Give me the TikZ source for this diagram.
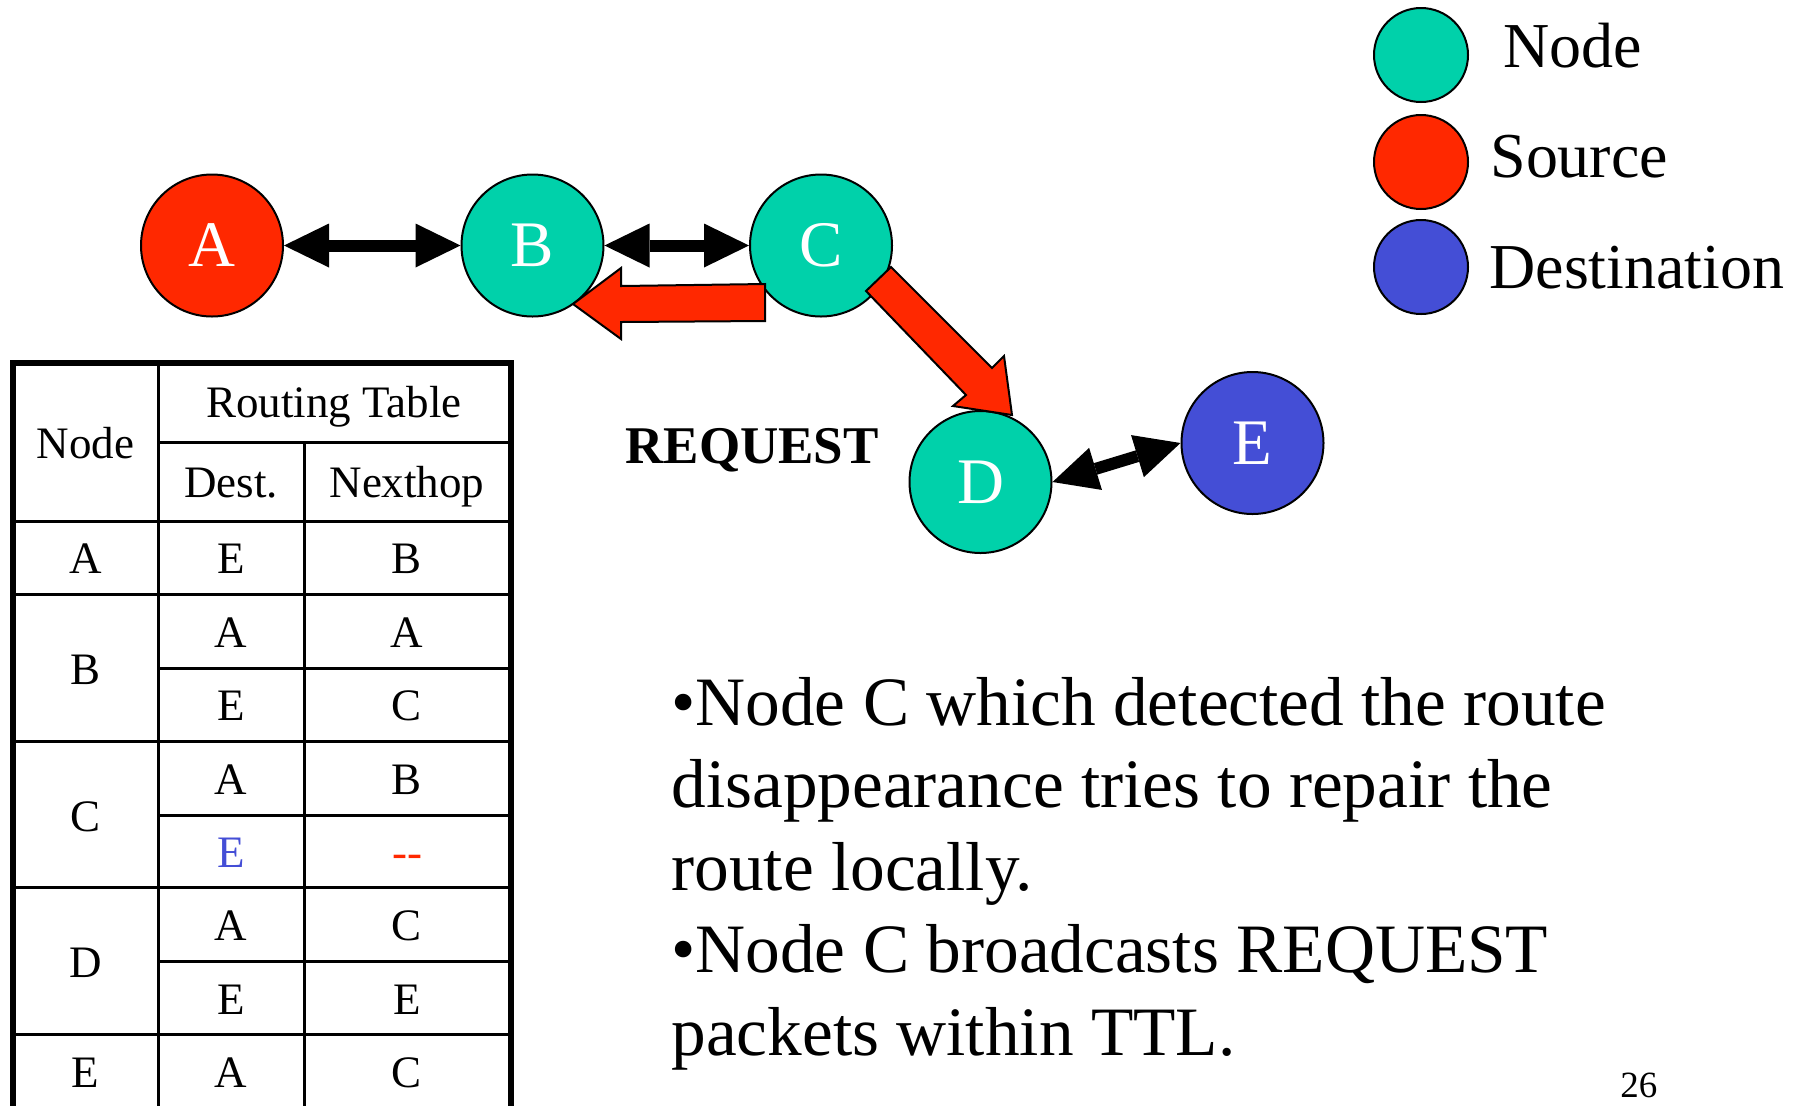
\documentclass[tikz,border=0pt]{standalone}
\usepackage{fontspec}
\setmainfont{Liberation Serif}
\usetikzlibrary{arrows.meta}
\definecolor{nodeteal}{RGB}{0,209,170}
\definecolor{srcred}{RGB}{255,40,0}
\definecolor{dstblue}{RGB}{68,78,214}
\begin{document}
\begin{tikzpicture}[x=0.5pt,y=-0.5pt,
  net/.style={circle, draw=black, line width=1pt, minimum size=71pt, inner sep=0pt,
    text=white, font=\fontsize{32.5}{39}\selectfont},
  legc/.style={circle, draw=black, line width=1pt, minimum size=47pt, inner sep=0pt},
  tipa/.tip={Triangle[length=22.5pt,width=22pt,line width=0pt]},
  link/.style={line width=6pt, draw=black, tipa-tipa},
  redarrow/.style={fill=srcred, draw=black, line width=1pt, line join=miter},
  tthick/.style={line width=3pt, line cap=rect},
  tthin/.style={line width=1.5pt},
  cell/.style={anchor=base, inner sep=0pt, font=\fontsize{22.5}{27}\selectfont},
  legt/.style={anchor=base west, inner sep=0pt, font=\fontsize{32}{38}\selectfont},
  body/.style={anchor=base west, inner sep=0pt, font=\fontsize{34.65}{41}\selectfont}]
\path[use as bounding box, fill=white] (0,0) rectangle (1800,1105);

% network nodes
\node[net, fill=srcred]  (A) at (212,245.5) {A};
\node[net, fill=nodeteal] (B) at (532.5,245.5) {B};
\node[net, fill=nodeteal] (C) at (821,245.5) {C};
\node[net, fill=nodeteal] (D) at (980.5,482) {D};
\node[net, fill=dstblue]  (E) at (1252.5,443) {E};

% links
\draw[link] (A) -- (B);
\draw[link] (B) -- (C);
\draw[link] (D.east) -- (E.west);

% red block arrows
\draw[redarrow] (765,284) -- (621,286) -- (621,268) -- (573,304) -- (621,339) -- (621,322) -- (765,321) -- cycle;
\draw[redarrow] (891,267) -- (992,368) -- (1004,356) -- (1012,415) -- (953,406) -- (966,395) -- (866,291) -- cycle;

\node[anchor=base west, inner sep=0pt, font=\fontsize{26.5}{32}\selectfont\bfseries] (req) at (625,463) {REQUEST};

% legend
\node[legc, fill=nodeteal] (l1) at (1421,55) {};
\node[legc, fill=srcred]   (l2) at (1421,162) {};
\node[legc, fill=dstblue]  (l3) at (1421,267) {};
\node[legt] (lt1) at (1503,67) {Node};
\node[legt] (lt2) at (1490,177) {Source};
\node[legt] (lt3) at (1489,288) {Destination};

% routing table
\draw[tthick] (13,1110) -- (13,363) -- (510.5,363) -- (510.5,1110);
\foreach \yy in {521,594,741.6,887.5,1034.4} \draw[tthin] (13,\yy) -- (510.5,\yy);
\foreach \yy in {442.5,668,815,961.7} \draw[tthin] (158,\yy) -- (510.5,\yy);
\draw[tthin] (158,363) -- (158,1110);
\draw[tthin] (304,442.5) -- (304,1110);

\node[cell] (hnode) at (85.5,458) {Node};
\node[cell] (hrt) at (334,417) {Routing Table};
\node[cell] (hdst) at (231,497) {Dest.};
\node[cell] (hnh) at (407,497) {Nexthop};

\node[cell] (ra) at (85.5,573.5) {A};
\node[cell] (ra1) at (231,573.5) {E};
\node[cell] (ra2) at (407,573.5) {B};

\node[cell] (rb) at (85.5,684) {B};
\node[cell] (rb1) at (231,647) {A};
\node[cell] (rb2) at (407,647) {A};
\node[cell] (rb3) at (231,720.5) {E};
\node[cell] (rb4) at (407,720.5) {C};

\node[cell] (rc) at (85.5,831) {C};
\node[cell] (rc1) at (231,794) {A};
\node[cell] (rc2) at (407,794) {B};
\node[cell, text=dstblue] (rc3) at (231,867) {E};
\node[cell, text=srcred] (rc4) at (407,867) {-{}-};

\node[cell] (rd) at (85.5,977.7) {D};
\node[cell] (rd1) at (231,940.6) {A};
\node[cell] (rd2) at (407,940.6) {C};
\node[cell] (rd3) at (231,1014) {E};
\node[cell] (rd4) at (407,1014) {E};

\node[cell] (re) at (85.5,1087) {E};
\node[cell] (re1) at (231,1087) {A};
\node[cell] (re2) at (407,1087) {C};

% body text
\node[body] (b1) at (671,725) {•Node C which detected the route};
\node[body] (b2) at (671,807.5) {disappearance tries to repair the};
\node[body] (b3) at (671,890) {route locally.};
\node[body] (b4) at (671,972.5) {•Node C broadcasts REQUEST};
\node[body] (b5) at (671,1055) {packets within TTL.};

\node[anchor=base west, inner sep=0pt, font=\fontsize{18.5}{22}\selectfont] (pg) at (1620,1097) {26};
\end{tikzpicture}
\end{document}
